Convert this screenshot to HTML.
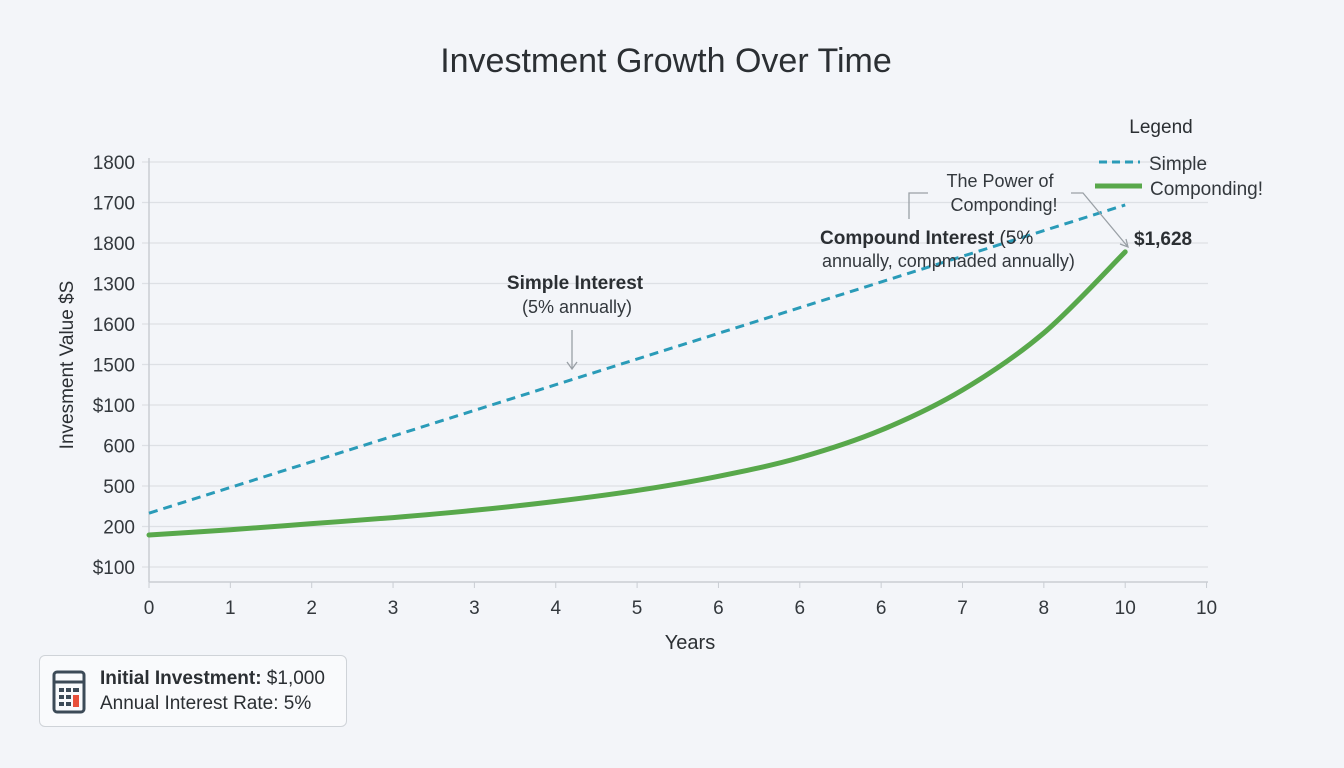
<!DOCTYPE html>
<html><head><meta charset="utf-8"><style>
body{margin:0;width:1344px;height:768px;background:#f3f5f9;font-family:"Liberation Sans",sans-serif;overflow:hidden;position:relative}
svg{position:absolute;left:0;top:0}
.box{position:absolute;left:39px;top:655px;width:306px;height:70px;border:1.5px solid #cfd3d8;border-radius:6px;background:#f9fafc}
</style></head><body>
<svg width="1344" height="768" id="c"></svg>
<div class="box">
<svg width="40" height="48" style="left:12px;top:14px">
<rect x="2" y="2" width="30" height="40" rx="3" fill="none" stroke="#3c4a57" stroke-width="3"/>
<line x1="2" y1="12" x2="32" y2="12" stroke="#3c4a57" stroke-width="3"/>
<rect x="7" y="18" width="5" height="4" fill="#3c4a57"/><rect x="14" y="18" width="5" height="4" fill="#3c4a57"/><rect x="21" y="18" width="6" height="4" fill="#3c4a57"/>
<rect x="7" y="25" width="5" height="4" fill="#3c4a57"/><rect x="14" y="25" width="5" height="4" fill="#3c4a57"/>
<rect x="7" y="32" width="5" height="4" fill="#3c4a57"/><rect x="14" y="32" width="5" height="4" fill="#3c4a57"/>
<rect x="21" y="25" width="6" height="12" fill="#e8503a"/></svg>
<div style="position:absolute;left:60px;top:10px;font-size:19px;color:#2b2f33;line-height:25px">
<div><b style="font-weight:600">Initial Investment:</b> $1,000</div>
<div>Annual Interest Rate: 5%</div></div>
</div>
<script>
const xLabels=["0","1","2","3","3","4","5","6","6","6","7","8","10","10"];
const yLabels=["$100","200","500","600","$100","1500","1600","1300","1800","1700","1800"];
const simpleX=[0,12];
const simpleY=[1.33,8.94];
const compX=[0,1,2,3,4,5,6,7,8,9,10,11,12];
const compY=[0.79,0.92,1.07,1.22,1.40,1.62,1.89,2.24,2.70,3.38,4.37,5.78,7.78];
const NS="http://www.w3.org/2000/svg",s=document.getElementById('c');
const X=i=>149+i*81.35, Y=v=>567-v*40.5;
function el(t,a,txt){const e=document.createElementNS(NS,t);for(const k in a)e.setAttribute(k,a[k]);if(txt!=null)e.textContent=txt;s.appendChild(e);return e;}
let e=el('text',{x:666,y:72,'text-anchor':'middle','font-size':34,fill:'#2b2f33'},'Investment Growth Over Time');

yLabels.forEach((l,i)=>{let g=el('line',{x1:142,x2:1208,y1:Y(i),y2:Y(i),stroke:'#dde0e5','stroke-width':1.3});

let t=el('text',{x:135,y:Y(i)+7,'text-anchor':'end','font-size':19,fill:'#33383d'},l);
});
e=el('line',{x1:149,x2:149,y1:158,y2:582,stroke:'#c9cdd3','stroke-width':1.5});
e=el('line',{x1:149,x2:1208,y1:582,y2:582,stroke:'#c9cdd3','stroke-width':1.5});
xLabels.forEach((l,i)=>{el('line',{x1:X(i),x2:X(i),y1:582,y2:588,stroke:'#c9cdd3'});
let t=el('text',{x:X(i),y:614,'text-anchor':'middle','font-size':19,fill:'#33383d'},l);
});
e=el('text',{x:690,y:649,'text-anchor':'middle','font-size':20,fill:'#2b2f33'},'Years');
e=el('text',{x:73,y:365,'text-anchor':'middle','font-size':19,fill:'#2b2f33',transform:'rotate(-90 73 365)'},'Invesment Value $S');
e=el('path',{d:simpleX.map((x,i)=>(i?'L':'M')+X(x)+' '+Y(simpleY[i])).join(''),fill:'none',stroke:'#2a9bb8','stroke-width':3,'stroke-dasharray':'9 6'});

const P=compX.map((x,i)=>[X(x),Y(compY[i])]);
let d='M'+P[0][0]+' '+P[0][1];
for(let i=0;i<P.length-1;i++){const p0=P[Math.max(i-1,0)],p1=P[i],p2=P[i+1],p3=P[Math.min(i+2,P.length-1)];
d+=`C${p1[0]+(p2[0]-p0[0])/6} ${p1[1]+(p2[1]-p0[1])/6} ${p2[0]-(p3[0]-p1[0])/6} ${p2[1]-(p3[1]-p1[1])/6} ${p2[0]} ${p2[1]}`;}
e=el('path',{d:d,fill:'none',stroke:'#58a84b','stroke-width':5,'stroke-linejoin':'round','stroke-linecap':'round'});

e=el('text',{x:575,y:289,'text-anchor':'middle','font-size':19,'font-weight':'bold',fill:'#2b2f33'},'Simple Interest');
el('text',{x:577,y:313,'text-anchor':'middle','font-size':18,fill:'#33383d'},'(5% annually)');
el('path',{d:'M572 330V369M567 362L572 369L577 362',fill:'none',stroke:'#9aa0a6','stroke-width':1.3});
e=el('text',{x:820,y:244,'font-size':19,fill:'#2b2f33'});
e.innerHTML='<tspan font-weight="bold">Compound Interest</tspan> (5%';
el('text',{x:822,y:267,'font-size':18,fill:'#33383d'},'annually, compmaded annually)');
e=el('text',{x:1000,y:187,'text-anchor':'middle','font-size':18,fill:'#33383d'},'The Power of');
el('text',{x:1004,y:211,'text-anchor':'middle','font-size':18,fill:'#33383d'},'Componding!');
el('path',{d:'M928 193H909V219M1071 193H1083L1128 247M1120 244L1128 247L1126 239',fill:'none',stroke:'#9aa0a6','stroke-width':1.3});
e=el('text',{x:1134,y:245,'font-size':19,'font-weight':'bold',fill:'#2b2f33'},'$1,628');
e=el('text',{x:1161,y:133,'text-anchor':'middle','font-size':19,fill:'#2b2f33'},'Legend');
el('line',{x1:1099,x2:1140,y1:162,y2:162,stroke:'#2a9bb8','stroke-width':3,'stroke-dasharray':'8 5'});
e=el('text',{x:1149,y:170,'font-size':19,fill:'#33383d'},'Simple');
el('line',{x1:1095,x2:1142,y1:186,y2:186,stroke:'#58a84b','stroke-width':5});
e=el('text',{x:1150,y:195,'font-size':19,fill:'#33383d'},'Componding!');
</script>
</body></html>
